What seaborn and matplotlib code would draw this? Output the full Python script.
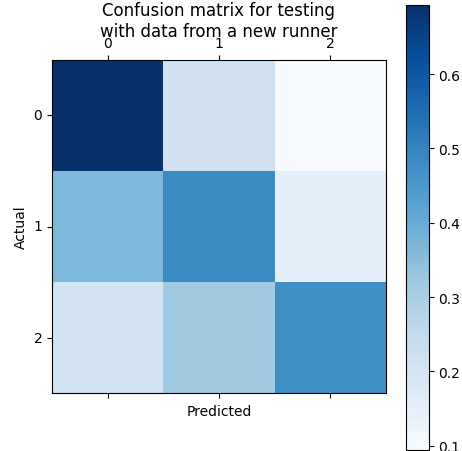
import numpy as np
import pandas as pd
import matplotlib
matplotlib.use("Agg")
import matplotlib.pyplot as plt
import seaborn as sns

labels = ["0", "1", "2"]
row0 = [0.693, 0.214, 0.095]
row1 = [0.365, 0.485, 0.152]
row2 = [0.208, 0.318, 0.474]

data = pd.DataFrame([row0, row1, row2], index=labels, columns=labels)

fig = plt.figure(figsize=(4.62, 4.52), dpi=100)
ax = fig.add_axes([52/462, 1-394.3/452, 334/462, 333.6/452])
cax = fig.add_axes([406/462, 1-450.5/452, 22.5/462, 444.5/452])

sns.heatmap(data, ax=ax, cbar_ax=cax, cmap="Blues", square=False)

for s in ax.spines.values():
    s.set_visible(True)
    s.set_linewidth(0.8)
    s.set_color("black")
cb = ax.collections[0].colorbar
cb.outline.set_linewidth(0.8)
cb.outline.set_edgecolor("black")
cb.set_ticks([0.1, 0.2, 0.3, 0.4, 0.5, 0.6])
cb.ax.tick_params(labelsize=10)

ax.tick_params(axis="x", top=True, labeltop=True, bottom=True, labelbottom=False, length=3.5)
ax.tick_params(axis="y", left=True, length=3.5)
ax.set_xticks([0.5, 1.5, 2.5])
ax.set_xticklabels(labels, rotation=0)
ax.set_yticks([0.5, 1.5, 2.5])
ax.set_yticklabels(labels, rotation=0)
ax.set_xlabel("Predicted")
ax.set_ylabel("Actual")
ax.set_title("Confusion matrix for testing\nwith data from a new runner", fontsize=12,
             y=1.072, pad=0)

fig.savefig("out.png", dpi=100)
